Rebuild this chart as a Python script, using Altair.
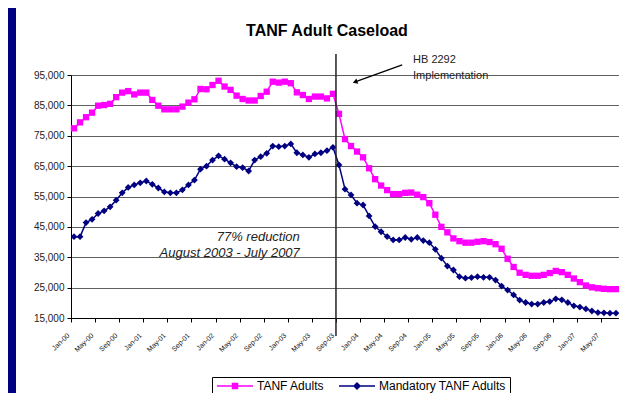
import altair as alt
import pandas as pd

# ---------------- data ----------------
month_labels = ["Jan-00", "May-00", "Sep-00", "Jan-01", "May-01", "Sep-01",
                "Jan-02", "May-02", "Sep-02", "Jan-03", "May-03", "Sep-03",
                "Jan-04", "May-04", "Sep-04", "Jan-05", "May-05", "Sep-05",
                "Jan-06", "May-06", "Sep-06", "Jan-07", "May-07"]

# monthly values, Jan 2000 .. Jul 2007
tanf_adults = [77450, 79400, 81100, 82600, 84900, 85100, 85500, 87700, 89200, 89700,
               88600, 89200, 89200, 86800, 84900, 83700, 83700, 83700, 84600, 85900,
               87000, 90400, 90300, 91700, 93100, 91200, 90100, 88200, 87100, 86600,
               86600, 88100, 89500, 92800, 92500, 92800, 92300, 89300, 88400, 87100,
               87900, 87900, 87300, 88800,
               82200, 73900, 71600, 69800, 67900, 64300, 60700, 58600, 57100,
               55800, 55800, 56200, 56300, 55600, 54800, 52800, 49000, 45000, 43200,
               41200, 40300, 39800, 39800, 40100, 40300, 40000, 39300, 37800, 34500,
               31800, 29900, 29200, 28900, 28900, 29200, 29800, 30500, 30100, 29200,
               28000, 26800, 25700, 25100, 24800, 24600, 24500, 24500]

mandatory_adults = [41770, 41770, 46400, 47500, 49400, 50300, 51600, 53800, 56200, 58000,
                    58800, 59500, 60100, 59000, 57800, 56500, 56200, 56200, 57200, 58800,
                    60400, 64000, 65000, 67000, 68400, 67300, 66100, 64800, 64500, 63400,
                    67000, 68100, 69200, 71600, 71400, 71600, 72300, 69400, 68700, 67900,
                    69000, 69400, 70100, 71200,
                    65400, 57400, 55500, 52800, 52200, 48600, 45100, 43400, 41800, 40700,
                    40700, 41500, 40900, 41500, 40500, 39800, 37600, 34700, 32100, 30800,
                    28600, 28100, 28300, 28600, 28400, 28400, 27500, 25500, 24200, 22600,
                    20900, 20100, 19600, 19600, 20100, 20400, 21300, 21000, 20100, 19000,
                    18600, 18000, 17300, 16800, 16700, 16600, 16600]

series_names = ["TANF Adults", "Mandatory TANF Adults"]
series_colors = ["#FF00FF", "#000080"]
series_shapes = ["square", "diamond"]
series_sizes = [40, 46]

n = len(tanf_adults)
df = pd.DataFrame({
    "idx": list(range(n)) * 2,
    "value": tanf_adults + mandatory_adults,
    "series": [series_names[0]] * n + [series_names[1]] * n,
})

FONT = "Liberation Sans"

label_array = "[" + ",".join("'" + s + "'" for s in month_labels) + "]"
x_ticks = [-0.5 + 4 * k for k in range(len(month_labels))]

x_scale = alt.Scale(domain=[-0.5, 90.5], nice=False, zero=False)
y_scale = alt.Scale(domain=[15000, 95000], nice=False, zero=False)

x_axis = alt.Axis(values=x_ticks, labelExpr=label_array + "[round((datum.value + 0.5) / 4)]",
                  labelAngle=-45, labelAlign="right", labelBaseline="middle",
                  labelFontSize=7, labelFont=FONT, labelColor="#111", labelPadding=12,
                  labelOffset=-3,
                  tickSize=4, tickColor="black", domainColor="black", grid=False,
                  title=None, labelOverlap=False)
y_axis = alt.Axis(values=list(range(15000, 95001, 10000)), format=",.0f",
                  labelFontSize=10, labelFont=FONT, labelColor="#222", labelPadding=3,
                  tickSize=4, tickColor="black", domainColor="black",
                  grid=True, gridColor="#606060", gridWidth=1, title=None)

X = alt.X("idx:Q", scale=x_scale, axis=x_axis)
Y = alt.Y("value:Q", scale=y_scale, axis=y_axis)

# series layers
series_layers = []
for name, col, shp, sz in zip(series_names, series_colors, series_shapes, series_sizes):
    b = alt.Chart(df).transform_filter(alt.datum.series == name).encode(x=X, y=Y)
    series_layers.append(b.mark_line(color=col, strokeWidth=1.5))
    series_layers.append(b.mark_point(shape=shp, filled=True, color=col, opacity=1, size=sz))

# legend-only layer (no rows drawn; the scales have explicit domains)
line_seg = "M-3.6,-0.15H3.6V0.15H-3.6Z"
legend_paths = [line_seg + "M-0.65,-0.65H0.65V0.65H-0.65Z",
                line_seg + "M0,-0.8L0.8,0L0,0.8L-0.8,0Z"]
legend = alt.Legend(orient="none", legendX=141, legendY=302, direction="horizontal",
                    title=None, strokeColor="black", fillColor="white", padding=3,
                    labelFont=FONT, labelFontSize=12, labelColor="black",
                    symbolSize=100, symbolOffset=14, labelOffset=16, columnPadding=12,
                    symbolStrokeWidth=0, symbolOpacity=1)
legend_layer = alt.Chart(df).transform_filter("false").mark_point(filled=True, opacity=1).encode(
    x=X, y=Y,
    color=alt.Color("series:N", scale=alt.Scale(domain=series_names, range=series_colors),
                    legend=legend),
    shape=alt.Shape("series:N", scale=alt.Scale(domain=series_names, range=legend_paths),
                    legend=legend),
)

# title, implementation line and annotations (in data units)
title_text = alt.Chart(pd.DataFrame({"idx": [42.0], "value": [107700],
                                     "txt": ["TANF Adult Caseload"]})).mark_text(
    align="center", baseline="alphabetic", font=FONT, fontSize=16, fontWeight="bold",
    color="black").encode(x=X, y=Y, text="txt:N")

vline = alt.Chart(pd.DataFrame({"idx": [43.5], "value": [101900], "value2": [9075]})).mark_rule(
    color="#222222", strokeWidth=1.5).encode(x=X, y=Y, y2="value2:Q")

arrow = alt.Chart(pd.DataFrame({"idx": [54.5], "idx2": [46.8], "value": [98300], "value2": [92800]})).mark_rule(
    color="black", strokeWidth=1.3).encode(x=X, x2="idx2:Q", y=Y, y2="value2:Q")
arrow_head = alt.Chart(pd.DataFrame({"idx": [46.8], "value": [92800]})).mark_point(
    shape="triangle", angle=250, filled=True, color="black", opacity=1, size=30).encode(x=X, y=Y)

hb_text = alt.Chart(pd.DataFrame({"idx": [56.3, 56.3], "value": [99900, 94700],
                                  "txt": ["HB 2292", "Implementation"]})).mark_text(
    align="left", baseline="middle", font=FONT, fontSize=11, color="#222").encode(
    x=X, y=Y, text="txt:N")

red_text = alt.Chart(pd.DataFrame({"idx": [37.5, 37.5], "value": [41700, 36300],
                                   "txt": ["77% reduction", "August 2003 - July 2007"]})).mark_text(
    align="right", baseline="middle", font=FONT, fontSize=13, fontStyle="italic", color="#222").encode(
    x=X, y=Y, text="txt:N")

# navy frame strip on the left
strip = alt.Chart(pd.DataFrame({"a": [0]})).mark_rect(color="#000080").encode(
    x=alt.value(-63), x2=alt.value(-55), y=alt.value(-67), y2=alt.value(318))

chart = alt.layer(strip, *series_layers, legend_layer, title_text, vline, arrow, arrow_head,
                  hb_text, red_text).properties(
    width=548, height=243,
    autosize=alt.AutoSizeParams(type="none"),
    padding={"left": 63, "top": 67, "right": 0, "bottom": 75},
    background="white",
).configure_view(stroke="#808080", strokeWidth=1)

chart.save("out.html", embed_options={"renderer": "svg", "actions": False})
